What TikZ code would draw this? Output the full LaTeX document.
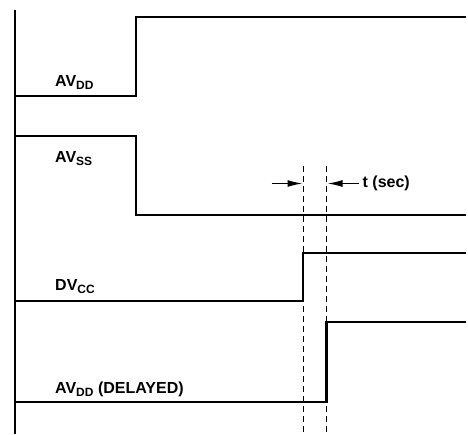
\documentclass[tikz,border=0pt]{standalone}
\usepackage{fontspec}
\setmainfont{Liberation Sans}
\usetikzlibrary{arrows.meta}
\newcommand\sbs[1]{\raisebox{-3pt}{\fontsize{12}{12}\selectfont #1}}
\begin{document}
\begin{tikzpicture}[x=1pt,y=-1pt,
  sig/.style={line width=2.3pt, line join=miter},
  axisline/.style={line width=1.5pt},
  guide/.style={line width=0.9pt, dash pattern=on 6pt off 4pt},
  dimarrow/.style={line width=1.4pt, -{Latex[length=15pt,width=7pt]}},
  lbl/.style={anchor=base west, inner sep=0pt, font=\fontsize{16}{19}\selectfont\bfseries}]
\useasboundingbox (0,0) rectangle (468,434);
% axis
\coordinate (axT) at (15,10);
\coordinate (axB) at (15,434);
\draw[axisline] (axT) -- (axB);
% AVDD
\coordinate (a1) at (15,96); \coordinate (a2) at (136,96);
\coordinate (a3) at (136,17); \coordinate (a4) at (466,17);
\draw[sig] (a1) -- (a2) -- (a3) -- (a4);
% AVSS
\coordinate (b1) at (15,136); \coordinate (b2) at (136,136);
\coordinate (b3) at (136,215); \coordinate (b4) at (466,215);
\draw[sig] (b1) -- (b2) -- (b3) -- (b4);
% DVCC
\coordinate (c1) at (15,301); \coordinate (c2) at (303.3,301);
\coordinate (c3) at (303.3,253); \coordinate (c4) at (466,253);
\draw[sig] (c1) -- (c2) -- (c3) -- (c4);
% AVDD delayed
\coordinate (d1) at (15,402); \coordinate (d2) at (326.5,402);
\coordinate (d3) at (326.5,322); \coordinate (d4) at (466,322);
\draw[sig] (d1) -- (d2) -- (d3) -- (d4);
% guides
\coordinate (g1t) at (303.3,166); \coordinate (g1b) at (303.3,434);
\coordinate (g2t) at (326.5,166); \coordinate (g2b) at (326.5,434);
\draw[guide] (g1t) -- (g1b);
\draw[guide] (g2t) -- (g2b);
% t (sec) arrows
\coordinate (l0) at (271.5,183.5); \coordinate (l1) at (302.5,183.5);
\coordinate (r0) at (358.5,183.5); \coordinate (r1) at (327.5,183.5);
\draw[dimarrow] (l0) -- (l1);
\draw[dimarrow] (r0) -- (r1);
\node[lbl, anchor=west] (tsec) at (362.5,183.5) {t (sec)};
% labels
\node[lbl] (lavdd) at (55,86.7) {AV\sbs{DD}};
\node[lbl] (lavss) at (55,162.5) {AV\sbs{SS}};
\node[lbl] (ldvcc) at (55,290.7) {DV\sbs{CC}};
\node[lbl] (ldel) at (55,393) {AV\sbs{DD} (DELAYED)};
\end{tikzpicture}
\end{document}
